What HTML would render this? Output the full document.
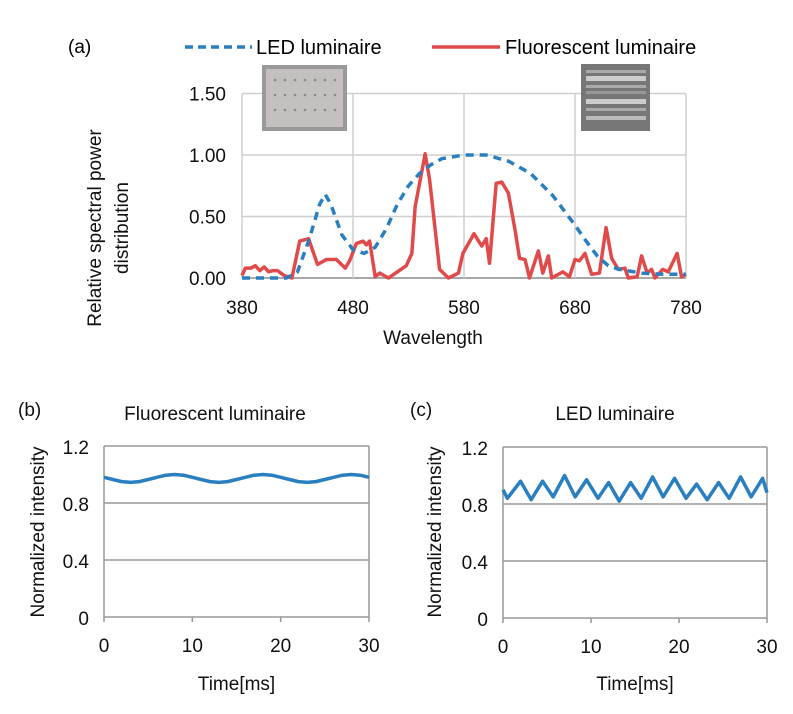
<!DOCTYPE html>
<html><head><meta charset="utf-8"><style>
body{margin:0;background:#fff}
svg{display:block;font-family:"Liberation Sans",Arial,sans-serif}
</style></head><body>
<svg id="s" width="793" height="714" viewBox="0 0 793 714">
<text x="68" y="53" font-size="19">(a)</text>
<g>
<line x1="185" y1="47" x2="252" y2="47" stroke="#2a7fc1" stroke-width="3.5" stroke-dasharray="8,5"/>
<text x="256" y="54" font-size="20">LED luminaire</text>
<line x1="432" y1="47" x2="500" y2="47" stroke="#e04a4a" stroke-width="3.5"/>
<text x="505" y="54" font-size="20">Fluorescent luminaire</text>
</g>
<g id="ga"></g>
<g>
<rect x="262" y="65" width="85" height="66" fill="#999"/>
<rect x="266" y="69" width="77" height="58" fill="#c4c0c0"/>
<g fill="#888"><circle cx="275" cy="80" r="1.3"/><circle cx="285" cy="80" r="1.3"/><circle cx="295" cy="80" r="1.3"/><circle cx="305" cy="80" r="1.3"/><circle cx="315" cy="80" r="1.3"/><circle cx="325" cy="80" r="1.3"/><circle cx="335" cy="80" r="1.3"/>
<circle cx="275" cy="95" r="1.3"/><circle cx="285" cy="95" r="1.3"/><circle cx="295" cy="95" r="1.3"/><circle cx="305" cy="95" r="1.3"/><circle cx="315" cy="95" r="1.3"/><circle cx="325" cy="95" r="1.3"/><circle cx="335" cy="95" r="1.3"/>
<circle cx="275" cy="110" r="1.3"/><circle cx="285" cy="110" r="1.3"/><circle cx="295" cy="110" r="1.3"/><circle cx="305" cy="110" r="1.3"/><circle cx="315" cy="110" r="1.3"/><circle cx="325" cy="110" r="1.3"/><circle cx="335" cy="110" r="1.3"/></g>
</g>
<g>
<rect x="581" y="64" width="69" height="67" fill="#777"/>
<rect x="586" y="70" width="60" height="3" fill="#aaa"/><rect x="586" y="76" width="60" height="5" fill="#ccc"/><rect x="586" y="85" width="60" height="3" fill="#aaa"/><rect x="586" y="91" width="60" height="3" fill="#999"/><rect x="586" y="99" width="60" height="5" fill="#ccc"/><rect x="586" y="108" width="60" height="3" fill="#aaa"/><rect x="586" y="116" width="60" height="4" fill="#bbb"/>
</g>
<g id="gb"></g>
<g id="gc"></g>
</svg>
<script>
const wlTicks=[380,480,580,680,780];
const spdTicks=[0,0.5,1.0,1.5];
const spdTickLabels=["0.00","0.50","1.00","1.50"];
const ledWl=[380,420,430,440,450,455,460,470,480,490,500,510,520,530,540,550,560,580,600,620,640,660,680,690,700,710,720,740,760,780];
const ledSpd=[0,0,0.05,0.3,0.6,0.68,0.6,0.35,0.23,0.2,0.25,0.4,0.6,0.75,0.85,0.92,0.97,1.0,1.0,0.95,0.85,0.67,0.43,0.3,0.18,0.1,0.07,0.04,0.03,0.03];
const flWl=[380,383,388,392,396,400,404,408,412,418,425,432,440,448,456,465,473,477,483,489,492,495,500,504,512,528,533,536,545,549,558,566,575,579,589,596,600,603,609,614,620,626,630,635,639,647,651,656,659,669,675,680,684,689,695,702,708,713,719,725,728,736,740,745,749,752,759,764,772,776,780];
const flSpd=[0.02,0.08,0.08,0.1,0.06,0.09,0.05,0.06,0.06,0.02,0,0.3,0.32,0.11,0.15,0.15,0.08,0.14,0.28,0.3,0.27,0.3,0.01,0.04,0,0.1,0.2,0.58,1.01,0.8,0.07,0,0.04,0.2,0.36,0.26,0.32,0.12,0.77,0.78,0.69,0.39,0.16,0.15,0,0.22,0.04,0.18,0,0.05,0.01,0.15,0.14,0.2,0.03,0.04,0.41,0.16,0.07,0.08,0,0.01,0.18,0.04,0.07,0,0.07,0.05,0.2,0.01,0.03];
const timeTicks=[0,10,20,30];
const intTicks=[0,0.4,0.8,1.2];
const intTickLabels=["0","0.4","0.8","1.2"];
const flT=[0,1,2,3,4,5,6,7,8,9,10,11,12,13,14,15,16,17,18,19,20,21,22,23,24,25,26,27,28,29,30];
const flI=[0.98,0.965,0.95,0.945,0.95,0.965,0.98,0.995,1.0,0.995,0.98,0.965,0.95,0.945,0.95,0.965,0.98,0.995,1.0,0.995,0.98,0.965,0.95,0.945,0.95,0.965,0.98,0.995,1.0,0.995,0.98];
const ledT=[0,0.5,2,3.2,4.5,5.7,7,8.2,9.5,10.8,12,13.2,14.5,15.7,17,18.2,19.5,20.8,22,23.2,24.5,25.7,27,28.2,29.5,30];
const ledI=[0.9,0.84,0.96,0.83,0.96,0.85,1.0,0.85,0.97,0.84,0.95,0.82,0.95,0.84,0.99,0.85,0.98,0.84,0.94,0.83,0.95,0.84,0.99,0.85,0.98,0.88];
const NS="http://www.w3.org/2000/svg";
function mk(p,tag,at){const e=document.createElementNS(NS,tag);for(const k in at)e.setAttribute(k,at[k]);p.appendChild(e);return e;}
function txt(p,x,y,s,fs,anchor,rot){const e=mk(p,'text',{x:x,y:y,'font-size':fs,'text-anchor':anchor||'middle',fill:'#111'});if(rot)e.setAttribute('transform','rotate(-90 '+x+' '+y+')');e.textContent=s;return e;}
(function(){
const g=document.getElementById('ga');
const X=v=>242+(v-380)*(444/400), Y=v=>278-v*123;
spdTicks.forEach((t,i)=>{const l=mk(g,'line',{x1:242,x2:686,y1:Y(t),y2:Y(t),stroke:i==0?'#a8a8a8':'#cfcfcf','stroke-width':i==0?2:1.5});

const tx=txt(g,226,Y(t)+7,spdTickLabels[i],19,'end');});
wlTicks.forEach(t=>{const l=mk(g,'line',{x1:X(t),x2:X(t),y1:Y(1.5),y2:Y(0),stroke:'#cfcfcf','stroke-width':1.5});

const tx=txt(g,X(t),Y(0)+36,String(t),19);});
const t1=txt(g,433,344,'Wavelength',19);
const t2=txt(g,101,228,'Relative spectral power',19,'middle',true);
const t3=txt(g,128,228,'distribution',19,'middle',true);
const fp=mk(g,'polyline',{points:flWl.map((w,i)=>X(w)+','+Y(flSpd[i])).join(' '),fill:'none',stroke:'#e04a4a','stroke-width':3.5,'stroke-linejoin':'round'});

const lp=mk(g,'polyline',{points:ledWl.map((w,i)=>X(w)+','+Y(ledSpd[i])).join(' '),fill:'none',stroke:'#2a7fc1','stroke-width':3.5,'stroke-dasharray':'8,6'});

})();
function small(id,x0,x1,y0,y1,lab,lx,title,tcx,T,I,bx){
const g=document.getElementById(id);
const X=v=>x0+(v/30)*(x1-x0), Y=v=>y0-v/1.2*(y0-y1);
const pl=txt(g,lx,416,lab,19,'start');
const tt=txt(g,tcx,420,title,19);
intTicks.forEach((t,i)=>{const l=mk(g,'line',{x1:x0,x2:x1,y1:Y(t),y2:Y(t),stroke:'#999','stroke-width':1.5});

const tx=txt(g,x0-15,Y(t)+8,intTickLabels[i],19,'end');});
mk(g,'line',{x1:x0,x2:x0,y1:y1,y2:y0,stroke:'#999','stroke-width':1.5});
mk(g,'line',{x1:x1,x2:x1,y1:y1,y2:y0,stroke:'#999','stroke-width':1.5});
timeTicks.forEach(t=>{mk(g,'line',{x1:X(t),x2:X(t),y1:y0,y2:y0+5,stroke:'#999','stroke-width':1.5});
const tx=txt(g,X(t),y0+35,String(t),19);});
const xt=txt(g,(x0+x1)/2,690,'Time[ms]',19);
const yt=txt(g,bx,532,'Normalized intensity',19,'middle',true);
const p=mk(g,'polyline',{points:T.map((t,i)=>X(t)+','+Y(I[i])).join(' '),fill:'none',stroke:'#2a7fc1','stroke-width':3.5,'stroke-linejoin':'round'});

}
small('gb',104,369,617,446,'(b)',18,'Fluorescent luminaire',215,flT,flI,44);
small('gc',503,767,618,447,'(c)',410,'LED luminaire',615,ledT,ledI,441);
</script>
</body></html>
